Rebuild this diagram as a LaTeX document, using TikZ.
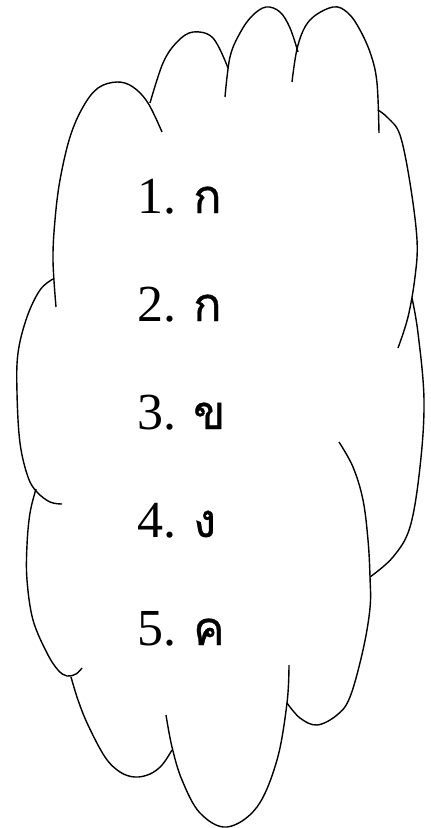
\documentclass[tikz,border=0pt]{standalone}
\usepackage{fontspec}
\setmainfont{Liberation Serif}
\newfontfamily\thaifont[Script=Thai,FakeBold=0.7]{Loma}
\newcommand{\thch}[1]{{\thaifont\fontsize{47}{55}\selectfont #1}}
\begin{document}
\begin{tikzpicture}[x=1pt,y=-1pt,
  cloudarc/.style={draw=black,line width=1.4pt,smooth,tension=0.6},
  itemtxt/.style={anchor=base west,inner sep=0pt,font=\fontsize{52}{60}\selectfont}]
\useasboundingbox (0,0) rectangle (431,828);
% cloud arcs
\draw[cloudarc] plot coordinates {(56,307) (53,260) (55,220) (60,180) (70,137) (83,107) (98,88) (117,82) (133,87) (148,103) (162,132)};
\draw[cloudarc] plot coordinates {(150,103) (163,63) (177,42) (193,32) (213,38) (228,68)};
\draw[cloudarc] plot coordinates {(225,97) (230,57) (240,33) (252,16) (266,7) (280,12) (290,28) (298,52)};
\draw[cloudarc] plot coordinates {(292,82) (298,45) (310,20) (333,7) (348,13) (360,30) (371,55) (377,83) (379,133)};
\draw[cloudarc] plot coordinates {(378,110) (388,118) (400,135) (410,183) (417,240) (415,277) (408,317) (398,348)};
\draw[cloudarc] plot coordinates {(412,298) (418,333) (424,400) (420,467) (410,527) (393,557) (370,577)};
\draw[cloudarc] plot coordinates {(339,442) (353,467) (363,500) (368,540) (370,577) (370,608) (363,650) (350,697) (337,715) (317,725) (300,718) (287,703)};
\draw[cloudarc] plot coordinates {(289,665) (287,703) (277,760) (257,807) (227,827) (200,813) (182,780) (172,747) (166,715)};
\draw[cloudarc] plot coordinates {(71,677) (78,700) (88,725) (105,757) (120,772) (135,777) (150,774) (162,765) (172,750)};
\draw[cloudarc] plot coordinates {(36,489) (30,513) (27,545) (27,580) (33,620) (47,653) (58,670) (67,676) (76,674) (82,668)};
\draw[cloudarc] plot coordinates {(53,279) (40,290) (27,317) (18,353) (17,393) (20,443) (28,477) (37,492) (50,502) (62,504)};
% items
\node[itemtxt] (i1) at (137,213) {\makebox[56pt][l]{1.}\thch{ก}};
\node[itemtxt] (i2) at (137,321) {\makebox[56pt][l]{2.}\thch{ก}};
\node[itemtxt] (i3) at (137,429) {\makebox[56pt][l]{3.}\thch{ข}};
\node[itemtxt] (i4) at (137,537) {\makebox[56pt][l]{4.}\thch{ง}};
\node[itemtxt] (i5) at (137,645) {\makebox[56pt][l]{5.}\thch{ค}};
\end{tikzpicture}
\end{document}
